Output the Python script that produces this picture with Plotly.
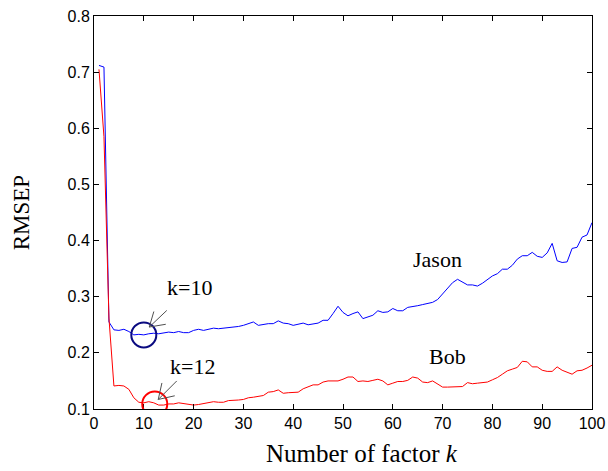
import plotly.graph_objects as go

k = list(range(1, 101))

jason = [0.712, 0.709, 0.255, 0.241, 0.240, 0.242, 0.238, 0.232, 0.233, 0.232,
         0.234, 0.235, 0.234, 0.236, 0.237, 0.236, 0.238, 0.236, 0.236, 0.240,
         0.242, 0.240, 0.242, 0.244, 0.243, 0.244, 0.244, 0.245, 0.247, 0.249,
         0.252, 0.255, 0.249, 0.251, 0.252, 0.252, 0.257, 0.253, 0.252, 0.249,
         0.251, 0.253, 0.250, 0.252, 0.253, 0.258, 0.258, 0.270, 0.283, 0.272,
         0.266, 0.270, 0.273, 0.261, 0.264, 0.267, 0.275, 0.272, 0.273, 0.279,
         0.275, 0.275, 0.281, 0.282, 0.284, 0.286, 0.288, 0.290, 0.295, 0.305,
         0.315, 0.325, 0.331, 0.326, 0.321, 0.321, 0.319, 0.324, 0.330, 0.337,
         0.341, 0.349, 0.349, 0.356, 0.367, 0.373, 0.373, 0.379, 0.372, 0.370,
         0.378, 0.395, 0.364, 0.361, 0.362, 0.386, 0.388, 0.406, 0.410, 0.432]

bob = [0.705, 0.585, 0.262, 0.141, 0.142, 0.141, 0.135, 0.120, 0.112, 0.111,
       0.113, 0.111, 0.107, 0.107, 0.109, 0.109, 0.111, 0.110, 0.108, 0.107,
       0.108, 0.110, 0.111, 0.113, 0.112, 0.112, 0.115, 0.115, 0.116, 0.117,
       0.120, 0.121, 0.122, 0.124, 0.130, 0.131, 0.134, 0.128, 0.129, 0.130,
       0.130, 0.136, 0.139, 0.143, 0.143, 0.148, 0.150, 0.150, 0.150, 0.153,
       0.157, 0.157, 0.149, 0.150, 0.149, 0.151, 0.153, 0.150, 0.143, 0.146,
       0.149, 0.149, 0.151, 0.157, 0.155, 0.148, 0.147, 0.150, 0.145, 0.139,
       0.139, 0.139, 0.139, 0.140, 0.147, 0.145, 0.146, 0.147, 0.148, 0.152,
       0.156, 0.162, 0.168, 0.171, 0.174, 0.185, 0.184, 0.175, 0.175, 0.169,
       0.167, 0.167, 0.175, 0.169, 0.165, 0.162, 0.168, 0.169, 0.173, 0.178]

x_ticks = [0, 10, 20, 30, 40, 50, 60, 70, 80, 90, 100]
y_ticks = [0.1, 0.2, 0.3, 0.4, 0.5, 0.6, 0.7, 0.8]
y_tick_text = ["0.1", "0.2", "0.3", "0.4", "0.5", "0.6", "0.7", "0.8"]

# annotation anchors (data coords)
circle_jason = (10.0, 0.232)
circle_bob = (12.2, 0.109)
tip_jason = (11.1, 0.246)
tip_bob = (12.9, 0.117)

SERIF = "Liberation Serif, Times New Roman, serif"
SANS = "Liberation Sans, Arial, sans-serif"

fig = go.Figure()
fig.add_trace(go.Scatter(x=k, y=jason, mode="lines", name="Jason",
                         line=dict(color="#0000ff", width=1)))
fig.add_trace(go.Scatter(x=k, y=bob, mode="lines", name="Bob",
                         line=dict(color="#ff0000", width=1)))

r = 12.5
for (cx, cy), col in [(circle_jason, "#0a0a80"), (circle_bob, "#ff0000")]:
    fig.add_shape(type="circle", xref="x", yref="y",
                  xsizemode="pixel", ysizemode="pixel",
                  xanchor=cx, yanchor=cy,
                  x0=-r, x1=r, y0=-r, y1=r,
                  line=dict(color=col, width=2))

arrow_col = "#505050"
for (tx, ty), offs in [(tip_jason, [(19, -18), (5, -17), (18, -3)]),
                       (tip_bob, [(20, -20), (4, -18), (18, -4)])]:
    for ax, ay in offs:
        fig.add_annotation(x=tx, y=ty, xref="x", yref="y", ax=ax, ay=ay,
                           axref="pixel", ayref="pixel", text="",
                           showarrow=True, arrowhead=0, arrowwidth=1,
                           arrowcolor=arrow_col, standoff=0, startstandoff=0)

labels = [("k=10", 19.1, 0.316), ("k=12", 19.7, 0.176),
          ("Jason", 69.0, 0.367), ("Bob", 71.0, 0.193)]
for txt, lx, ly in labels:
    fig.add_annotation(x=lx, y=ly, xref="x", yref="y", text=txt,
                       xanchor="center", yanchor="middle",
                       showarrow=False, font=dict(family=SERIF, size=22, color="black"))

fig.add_annotation(x=0.538, y=-0.112, xref="paper", yref="paper",
                   text="Number of factor <i>k</i>", showarrow=False,
                   xanchor="center", yanchor="middle",
                   font=dict(family=SERIF, size=25, color="black"))
fig.add_annotation(x=-0.145, y=0.5, xref="paper", yref="paper",
                   text="RMSEP", showarrow=False, textangle=-90,
                   xanchor="center", yanchor="middle",
                   font=dict(family=SERIF, size=23, color="black"))

axis_common = dict(showline=True, linecolor="black", linewidth=1, mirror="ticks",
                   ticks="inside", ticklen=5, tickcolor="black", tickwidth=1,
                   showgrid=False, zeroline=False, automargin=False,
                   tickfont=dict(family=SANS, size=16, color="black"))
fig.update_xaxes(range=[0, 100], tickvals=x_ticks, **axis_common)
fig.update_yaxes(range=[0.1, 0.8], tickvals=y_ticks, ticktext=y_tick_text, **axis_common)

fig.update_layout(width=608, height=471, showlegend=False,
                  margin=dict(l=94, r=16, t=16, b=62),
                  paper_bgcolor="white", plot_bgcolor="white")

fig.write_html("out.html")
